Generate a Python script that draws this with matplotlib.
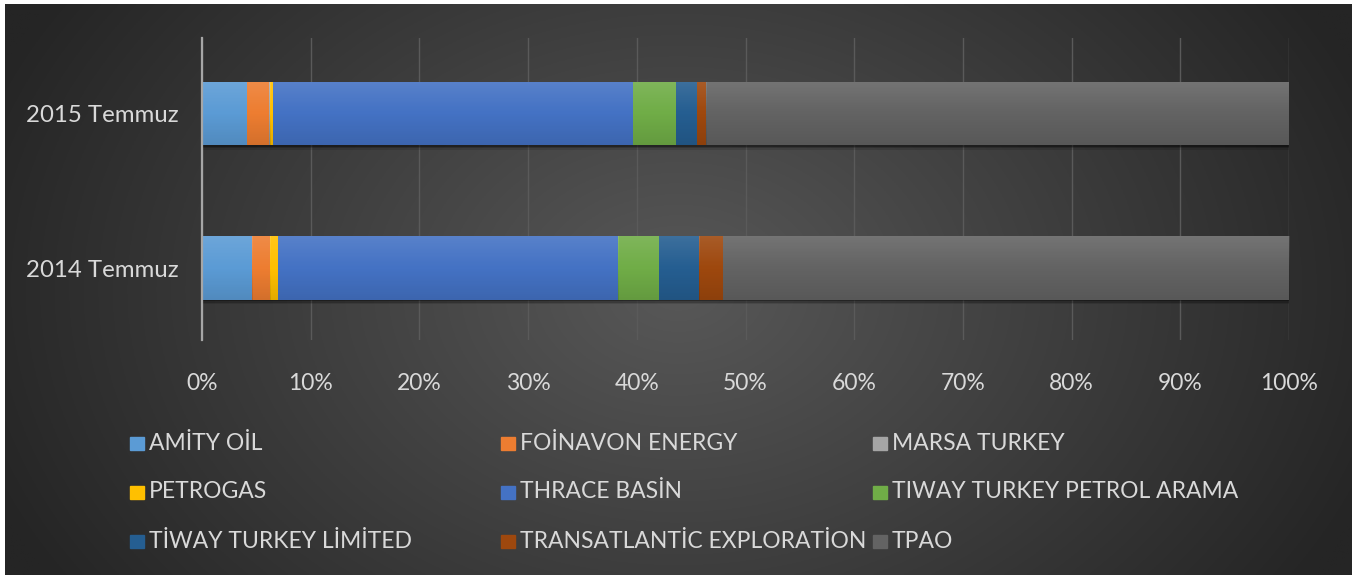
import numpy as np
import matplotlib.pyplot as plt
from matplotlib import patheffects
from matplotlib.patches import Rectangle

plt.rcParams['font.family'] = ['Lato', 'DejaVu Sans']

# categories (bottom to top)
periods = ["2014 Temmuz", "2015 Temmuz"]
companies = ["AMİTY OİL", "FOİNAVON ENERGY", "MARSA TURKEY",
             "PETROGAS", "THRACE BASİN", "TIWAY TURKEY PETROL ARAMA",
             "TİWAY TURKEY LİMİTED", "TRANSATLANTİC EXPLORATİON", "TPAO"]

# share of production in %, [2014 Temmuz, 2015 Temmuz]
amity = [4.6, 4.1]
foinavon = [1.7, 2.05]
marsa = [0.0, 0.15]
petrogas = [0.65, 0.25]
thrace = [31.35, 33.1]
tiway_arama = [3.7, 3.95]
tiway_limited = [3.7, 1.9]
transatlantic = [2.2, 0.9]
tpao = [52.1, 53.6]
series = [amity, foinavon, marsa, petrogas, thrace,
          tiway_arama, tiway_limited, transatlantic, tpao]

colors = ["#5B9BD5", "#ED7D31", "#A5A5A5", "#FFC000", "#4472C4",
          "#70AD47", "#255E91", "#9E480E", "#636363"]
text_color = "#d9d9d9"

W, H = 1362, 575
fig = plt.figure(figsize=(W / 100, H / 100), dpi=100, facecolor="white")

# dark radial background
bg = fig.add_axes([5 / W, 0, 1347 / W, 571 / H], zorder=-10)
yy, xx = np.mgrid[0:1:300j, 0:1:700j]
d = np.sqrt(((xx - 0.5) / 0.55) ** 2 + ((yy - 0.5) / 0.95) ** 2)
val = np.clip(88 - 51 * d, 37, 90) / 255
bg.imshow(np.dstack([val, val, val]), aspect="auto", extent=[0, 1, 0, 1])
bg.set_axis_off()

ax = fig.add_axes([202 / W, 1 - 340 / H, (1289 - 202) / W, (340 - 38) / H])
ax.set_facecolor("none")

y = np.arange(len(periods))
left = np.zeros(len(periods))
bar_h = 0.41
shadow = [patheffects.SimplePatchShadow(offset=(0, -3.2), shadow_rgbFace="black", alpha=0.12),
          patheffects.SimplePatchShadow(offset=(0, -2.2), shadow_rgbFace="black", alpha=0.2),
          patheffects.SimplePatchShadow(offset=(0, -1.2), shadow_rgbFace="black", alpha=0.3),
          patheffects.Normal()]
grad = np.linspace(0, 1, 64)[:, None]
overlay = np.zeros((64, 1, 4))
overlay[..., :3] = np.where(grad < 0.5, 1.0, 0.0)[..., None]
overlay[..., 3] = np.abs(0.5 - grad) * 0.22
all_bars = []
for name, vals, c in zip(companies, series, colors):
    bars = ax.barh(y, vals, left=left, height=bar_h, color=c, label=name, zorder=3)
    for b in bars:
        b.set_path_effects(shadow)
        all_bars.append(b)
    left = left + np.array(vals)

# subtle vertical sheen on each segment
for b in all_bars:
    if b.get_width() <= 0:
        continue
    x0, y0 = b.get_x(), b.get_y()
    im = ax.imshow(overlay, aspect="auto", zorder=4, interpolation="bilinear",
                   extent=[x0, x0 + b.get_width(), y0, y0 + b.get_height()])
    im.set_clip_path(b)

ax.set_xlim(0, 100)
ax.set_ylim(-0.466, 1.489)
ax.set_xticks(np.arange(0, 101, 10))
ax.set_xticklabels([f"{v}%" for v in range(0, 101, 10)])
ax.set_yticks(y)
ax.set_yticklabels(periods)
ax.tick_params(axis="both", length=0, labelcolor=text_color, labelsize=16.5)
ax.tick_params(axis="x", pad=24)
ax.tick_params(axis="y", pad=17, labelsize=17.3)
ax.grid(axis="x", color="#5a5a5a", linewidth=1, zorder=0)
for s in ["top", "right", "bottom"]:
    ax.spines[s].set_visible(False)
ax.spines["left"].set_color("#a6a6a6")
ax.spines["left"].set_linewidth(1.6)
ax.spines["left"].set_zorder(5)

# legend, three columns filled row by row
col_x = [130, 501, 873]
row_y = [443, 492, 541]
for i, (name, c) in enumerate(zip(companies, colors)):
    r, k = divmod(i, 3)
    mx, my = col_x[k], row_y[r]
    fig.patches.append(Rectangle((mx / W, 1 - (my + 6.5) / H), 14 / W, 13 / H,
                                 transform=fig.transFigure, color=c))
    fig.text((mx + 19) / W, 1 - my / H, name, color=text_color, fontsize=16.5,
             va="center", ha="left")

fig.savefig("out.png", dpi=100, facecolor=fig.get_facecolor())
